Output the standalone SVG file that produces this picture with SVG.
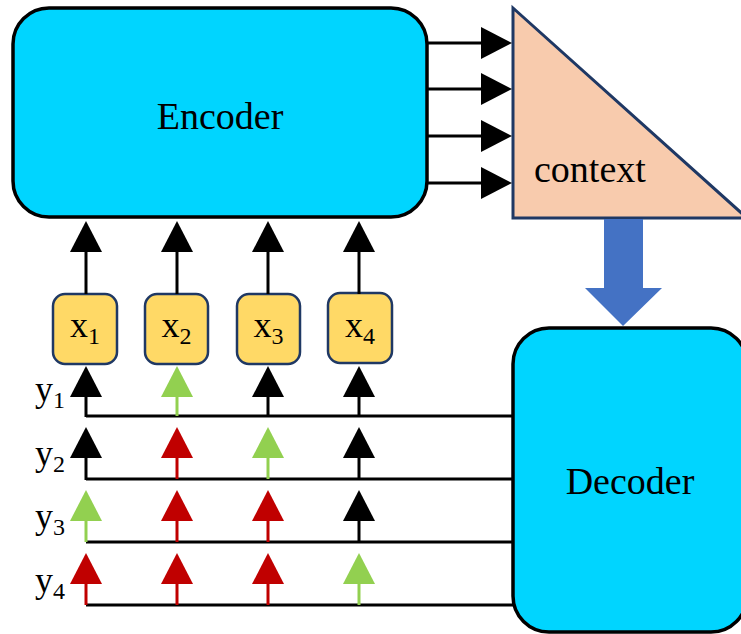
<svg xmlns="http://www.w3.org/2000/svg" width="741" height="634" viewBox="0 0 741 634">
<style>
.lbl{font-family:"Liberation Serif","Times New Roman",serif;fill:#000}
.big{font-size:38px}
.var{font-size:36px}
.sub{font-size:24px}
.blk{stroke:#000;stroke-width:3;fill:none}
.red{stroke:#C00000;stroke-width:3;fill:none}
.grn{stroke:#92D050;stroke-width:3;fill:none}
.box{fill:#FFD966;stroke:#1F3864;stroke-width:2.5}
.coder{fill:#00D5FF;stroke:#000;stroke-width:3.5}
</style>
<defs>
<marker id="ab" markerUnits="userSpaceOnUse" markerWidth="31" markerHeight="32" refX="1" refY="16" orient="auto"><path d="M0,0 L31,16 L0,32 Z" fill="#000"/></marker>
<marker id="ar" markerUnits="userSpaceOnUse" markerWidth="31" markerHeight="32" refX="1" refY="16" orient="auto"><path d="M0,0 L31,16 L0,32 Z" fill="#C00000"/></marker>
<marker id="ag" markerUnits="userSpaceOnUse" markerWidth="31" markerHeight="32" refX="1" refY="16" orient="auto"><path d="M0,0 L31,16 L0,32 Z" fill="#92D050"/></marker>
</defs>

<g id="encoder">
<rect class="coder" x="13" y="8" width="414" height="209" rx="36"/>
<text class="lbl big" x="220" y="129" text-anchor="middle">Encoder</text>
</g>

<g id="context">
<polygon points="513,8 513,218 747,218" fill="#F8CBAD" stroke="#1F3864" stroke-width="3"/>
<text class="lbl big" x="534" y="182">context</text>
</g>

<g id="decoder">
<rect class="coder" x="513" y="328" width="234" height="304" rx="36"/>
<text class="lbl big" x="630" y="494" text-anchor="middle">Decoder</text>
</g>

<g id="x1"><rect class="box" x="53" y="294" width="64" height="70" rx="12"/><text class="lbl var" x="85" y="337" text-anchor="middle">x<tspan class="sub" dy="7">1</tspan></text></g>
<g id="x2"><rect class="box" x="145" y="294" width="63" height="70" rx="12"/><text class="lbl var" x="176.5" y="337" text-anchor="middle">x<tspan class="sub" dy="7">2</tspan></text></g>
<g id="x3"><rect class="box" x="237" y="294" width="63" height="70" rx="12"/><text class="lbl var" x="268.5" y="337" text-anchor="middle">x<tspan class="sub" dy="7">3</tspan></text></g>
<g id="x4"><rect class="box" x="328" y="293" width="64" height="70" rx="12"/><text class="lbl var" x="360" y="337" text-anchor="middle">x<tspan class="sub" dy="7">4</tspan></text></g>

<g id="ylabels">
<text class="lbl var" x="35" y="401">y<tspan class="sub" dy="7">1</tspan></text>
<text class="lbl var" x="35" y="465">y<tspan class="sub" dy="7">2</tspan></text>
<text class="lbl var" x="35" y="528">y<tspan class="sub" dy="7">3</tspan></text>
<text class="lbl var" x="35" y="592">y<tspan class="sub" dy="7">4</tspan></text>
</g>

<g id="connectors">
<line class="blk" x1="86" y1="294" x2="86" y2="251" marker-end="url(#ab)"/>
<line class="blk" x1="177" y1="294" x2="177" y2="251" marker-end="url(#ab)"/>
<line class="blk" x1="268" y1="294" x2="268" y2="251" marker-end="url(#ab)"/>
<line class="blk" x1="359" y1="294" x2="359" y2="251" marker-end="url(#ab)"/>
<line class="blk" x1="428" y1="43" x2="482" y2="43" marker-end="url(#ab)"/>
<line class="blk" x1="428" y1="89" x2="482" y2="89" marker-end="url(#ab)"/>
<line class="blk" x1="428" y1="136" x2="482" y2="136" marker-end="url(#ab)"/>
<line class="blk" x1="428" y1="183" x2="482" y2="183" marker-end="url(#ab)"/>
<polygon points="604,219 643,219 643,288 662,288 623,326 585,288 604,288" fill="#4472C4"/>
<line class="blk" x1="86" y1="416" x2="513" y2="416"/>
<line class="blk" x1="86" y1="479" x2="513" y2="479"/>
<line class="blk" x1="86" y1="542" x2="513" y2="542"/>
<line class="blk" x1="86" y1="605" x2="513" y2="605"/>
<line class="blk" x1="86" y1="417" x2="86" y2="396" marker-end="url(#ab)"/>
<line class="grn" x1="177" y1="416" x2="177" y2="396" marker-end="url(#ag)"/>
<line class="blk" x1="268" y1="416" x2="268" y2="396" marker-end="url(#ab)"/>
<line class="blk" x1="359" y1="416" x2="359" y2="396" marker-end="url(#ab)"/>
<line class="blk" x1="86" y1="480" x2="86" y2="457" marker-end="url(#ab)"/>
<line class="red" x1="177" y1="479" x2="177" y2="457" marker-end="url(#ar)"/>
<line class="grn" x1="268" y1="479" x2="268" y2="457" marker-end="url(#ag)"/>
<line class="blk" x1="359" y1="479" x2="359" y2="457" marker-end="url(#ab)"/>
<line class="grn" x1="86" y1="542" x2="86" y2="520" marker-end="url(#ag)"/>
<line class="red" x1="177" y1="542" x2="177" y2="520" marker-end="url(#ar)"/>
<line class="red" x1="268" y1="542" x2="268" y2="520" marker-end="url(#ar)"/>
<line class="blk" x1="359" y1="542" x2="359" y2="520" marker-end="url(#ab)"/>
<line class="red" x1="86" y1="605" x2="86" y2="583" marker-end="url(#ar)"/>
<line class="red" x1="177" y1="605" x2="177" y2="583" marker-end="url(#ar)"/>
<line class="red" x1="268" y1="605" x2="268" y2="583" marker-end="url(#ar)"/>
<line class="grn" x1="359" y1="605" x2="359" y2="583" marker-end="url(#ag)"/>
</g>
</svg>
